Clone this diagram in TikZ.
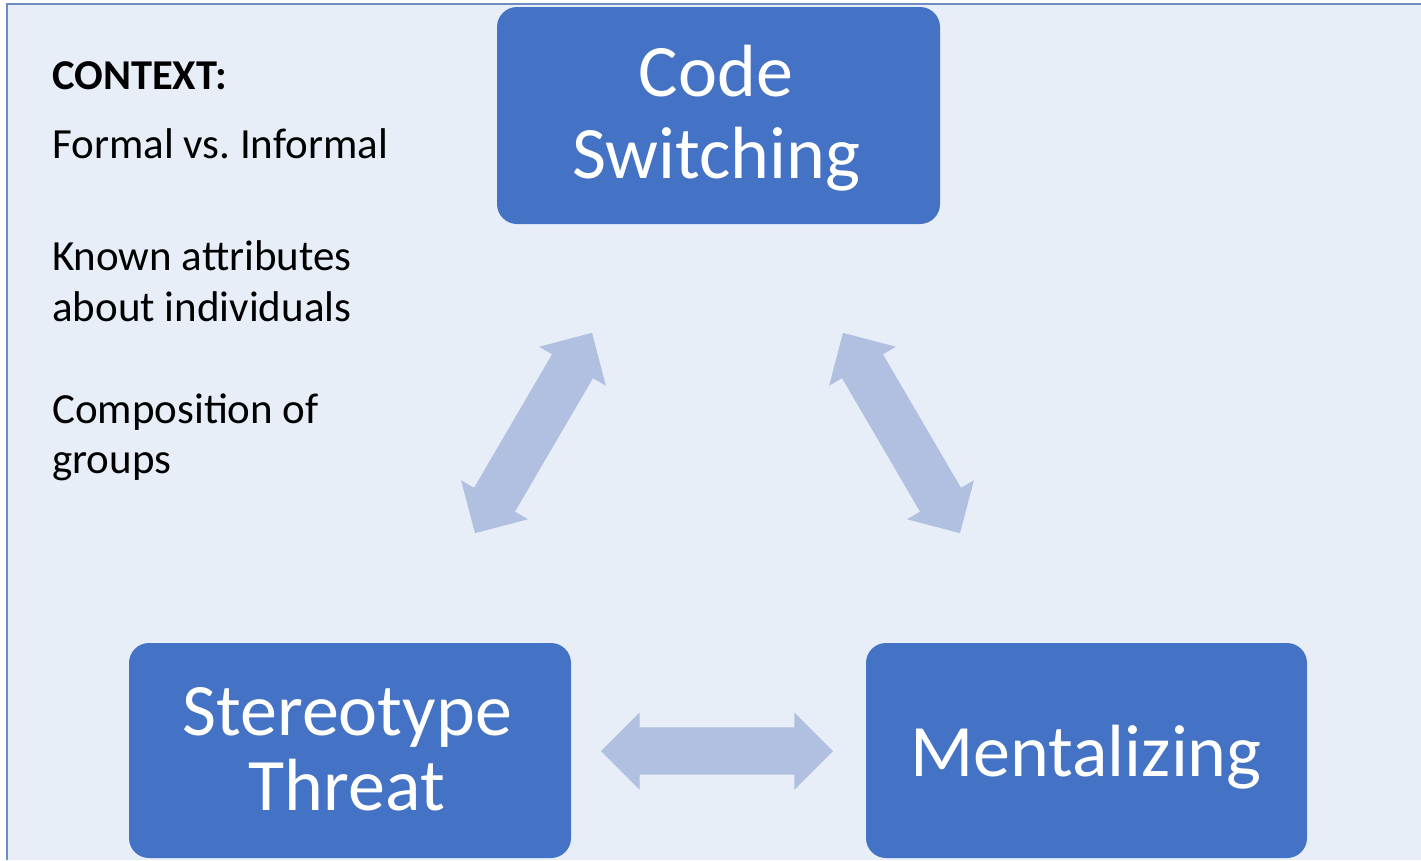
\documentclass[tikz,border=0pt]{standalone}
\usepackage{fontspec}
\setmainfont{Carlito}
\usetikzlibrary{shapes.arrows}
\definecolor{panelbg}{HTML}{E7EEF8}
\definecolor{panelrule}{HTML}{6F8CC2}
\definecolor{boxblue}{HTML}{4472C4}
\definecolor{linkblue}{HTML}{B1BFE0}
\tikzset{
  concept/.style={draw=none, fill=boxblue, rounded corners=20pt, inner sep=0pt},
  concepttext/.style={anchor=base, inner sep=0pt, text=white,
    font=\fontsize{74}{82}\selectfont},
  link/.style={double arrow, fill=linkblue, draw=none, inner xsep=0pt,
    inner ysep=23.5pt, minimum height=232pt, minimum width=77pt,
    double arrow head extend=15pt},
  ctxtext/.style={anchor=base west, inner sep=0pt,
    font=\fontsize{43}{51}\selectfont},
}
\begin{document}
\begin{tikzpicture}[x=1pt, y=1pt]
  \useasboundingbox (0,0) rectangle (1421,-860);
  % page and panel
  \fill[white] (0,0) rectangle (1421,-860);
  \fill[panelbg] (7,-4) rectangle (1421,-860);
  \draw[panelrule, line width=2pt] (7,-860) -- (7,-4) -- (1421,-4);

  % context notes
  \node[ctxtext, font=\fontsize{42.5}{51}\selectfont\bfseries] (ctx) at (52,-89) {CONTEXT:};
  \node[ctxtext] (formal) at (52,-158) {Formal vs.\ Informal};
  \node[ctxtext] (known1) at (52,-270) {Known attributes};
  \node[ctxtext] (known2) at (52,-321) {about individuals};
  \node[ctxtext] (comp1) at (52,-423) {Composition of};
  \node[ctxtext] (comp2) at (52,-473) {groups};

  % concept boxes
  \node[concept, minimum width=443pt, minimum height=217pt] (code) at (718.5,-115.5) {};
  \node[concept, minimum width=442pt, minimum height=215pt] (stereo) at (350,-750.5) {};
  \node[concept, minimum width=441pt, minimum height=215pt] (mental) at (1086.5,-750.5) {};

  % box captions
  \node[concepttext] (code1) at (716,-96) {Code};
  \node[concepttext] (code2) at (716,-178) {Switching};
  \node[concepttext] (stereo1) at (347,-735) {Stereotype};
  \node[concepttext] (stereo2) at (347,-810) {Threat};
  \node[concepttext] (mental1) at (1086,-776) {Mentalizing};

  % two-way links
  \node[link, rotate=59.7] (codestereo) at (533.5,-433) {};
  \node[link, rotate=-59.7] (codemental) at (901.5,-433) {};
  \node[link] (stereomental) at (717,-751) {};
\end{tikzpicture}
\end{document}
